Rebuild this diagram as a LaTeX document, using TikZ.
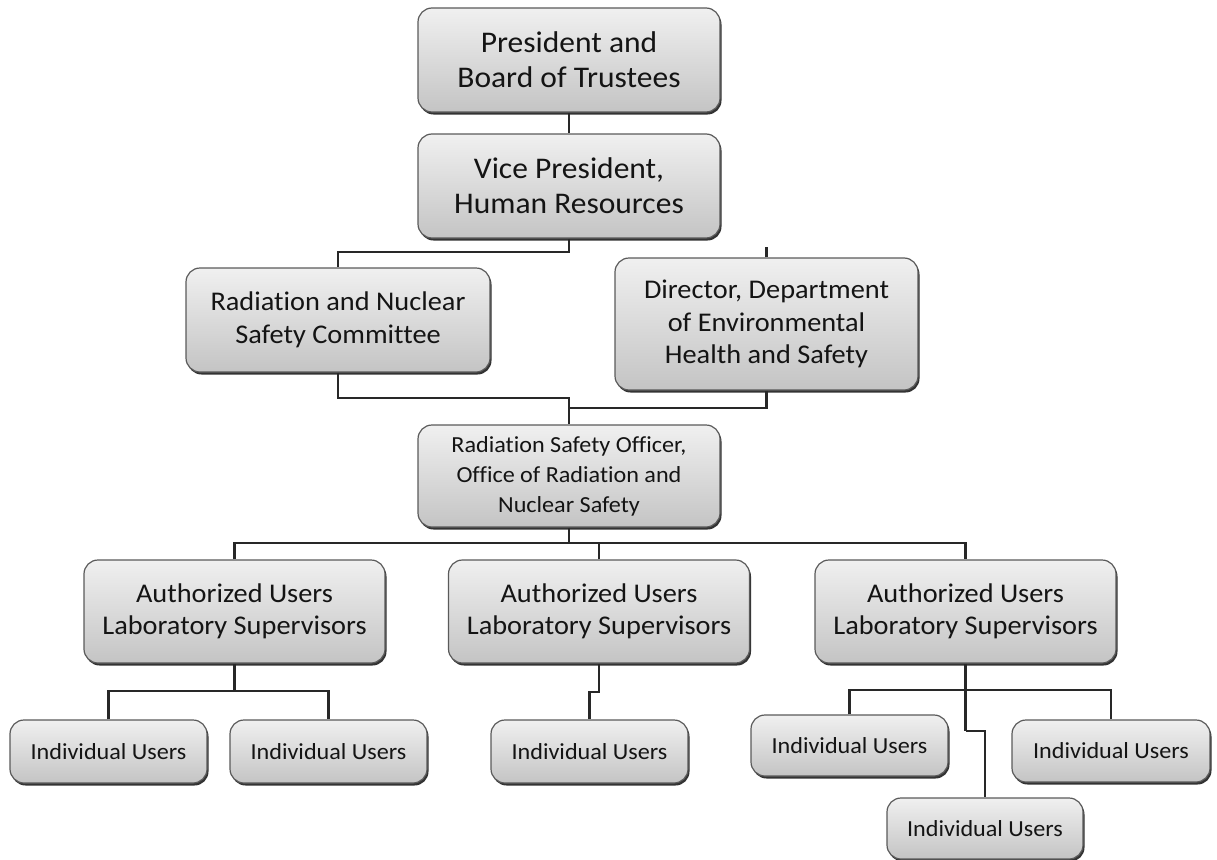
\documentclass[tikz,border=0pt]{standalone}
\usepackage{fontspec}
\setmainfont{Carlito}[FakeStretch=1.05,Ligatures=NoCommon]
\usetikzlibrary{shadows}
\definecolor{boxtop}{RGB}{240,240,240}
\definecolor{boxbot}{RGB}{196,196,196}
\definecolor{boxline}{RGB}{90,90,90}
\definecolor{linkc}{RGB}{40,40,40}
\tikzset{
  box/.style={draw=boxline, line width=1.2pt, rounded corners=14pt,
    top color=boxtop, bottom color=boxbot, align=center, inner sep=0pt,
    text=black!92,
    drop shadow={shadow xshift=1.5pt, shadow yshift=-2.5pt, fill=black!80, opacity=1}},
  link/.style={draw=linkc, line width=2.4pt},
  fA/.style={font=\fontsize{30}{35}\selectfont},
  fB/.style={font=\fontsize{27}{32.5}\selectfont},
  fC/.style={font=\fontsize{23}{30}\selectfont},
  fD/.style={font=\fontsize{23}{26}\selectfont},
}
\begin{document}
\begin{tikzpicture}[x=1pt,y=-1pt]
\useasboundingbox (0,0) rectangle (1217,859);
\node[box,fA,minimum width=302pt,minimum height=104pt] (pres) at (569,60) {President and\\Board of Trustees};
\node[box,fA,minimum width=302pt,minimum height=104pt] (vp) at (569,186) {Vice President,\\Human Resources};
\node[box,fB,minimum width=304pt,minimum height=104pt] (com) at (338,320) {Radiation and Nuclear\\Safety Committee};
\node[box,fB,minimum width=303pt,minimum height=132pt] (dir) at (766.5,324) {Director, Department\\of Environmental\\Health and Safety};
\node[box,fC,minimum width=302pt,minimum height=102pt] (rso) at (569,476) {Radiation Safety Officer,\\Office of Radiation and\\Nuclear Safety};
\node[box,fB,minimum width=301pt,minimum height=103pt] (au1) at (234.5,611.5) {Authorized Users\\Laboratory Supervisors};
\node[box,fB,minimum width=301pt,minimum height=103pt] (au2) at (599,611.5) {Authorized Users\\Laboratory Supervisors};
\node[box,fB,minimum width=301pt,minimum height=103pt] (au3) at (965.5,611.5) {Authorized Users\\Laboratory Supervisors};
\node[box,fD,minimum width=197pt,minimum height=63pt] (iu1) at (108.5,751.5) {Individual Users};
\node[box,fD,minimum width=197pt,minimum height=63pt] (iu2) at (328.5,751.5) {Individual Users};
\node[box,fD,minimum width=197pt,minimum height=63pt] (iu3) at (589.5,751.5) {Individual Users};
\node[box,fD,minimum width=197pt,minimum height=61pt] (iu4) at (849.5,745.5) {Individual Users};
\node[box,fD,minimum width=198pt,minimum height=62pt] (iu5) at (1111,751) {Individual Users};
\node[box,fD,minimum width=196pt,minimum height=61pt] (iu6) at (985,828.5) {Individual Users};
\coordinate (j1) at (569,252);
\coordinate (j2) at (569,398);
\coordinate (j3) at (569,408);
\coordinate (dstub) at (766.5,247);
\coordinate (j4) at (569,543);
\coordinate (j5) at (234.5,691);
\coordinate (j6) at (599,692);
\coordinate (j7) at (965.5,690);
\coordinate (j8) at (965.5,731);
\draw[link] (pres.south) -- (vp.north);
\draw[link] (vp.south) -- (j1) -| (com.north);
\draw[link] (dir.north) -- (dstub);
\draw[link] (com.south) |- (j2) -- (rso.north);
\draw[link] (dir.south) |- (j3);
\draw[link] (rso.south) -- (j4);
\draw[link] (au1.north) |- (j4) -| (au3.north);
\draw[link] (au2.north) -- (au2.north |- j4);
\draw[link] (au1.south) -- (j5);
\draw[link] (iu1.north) |- (j5) -| (iu2.north);
\draw[link] (au2.south) -- (j6) -| (iu3.north);
\draw[link] (au3.south) -- (j8);
\draw[link] (iu4.north) |- (j7) -| (iu5.north);
\draw[link] (j8) -| (iu6.north);
\end{tikzpicture}
\end{document}
